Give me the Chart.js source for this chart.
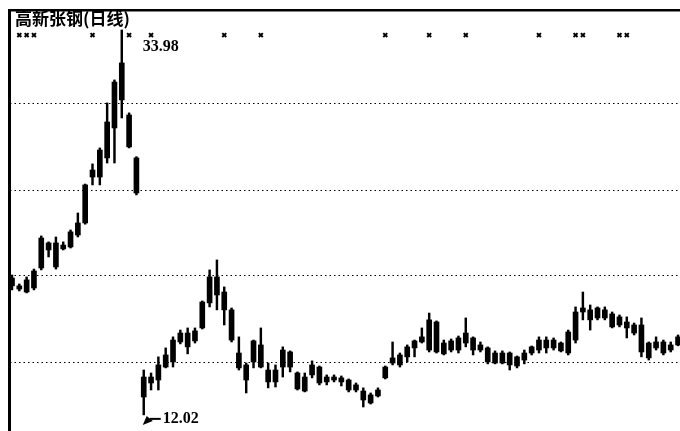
<!DOCTYPE html>
<html>
<head>
<meta charset="utf-8">
<script src="https://cdn.jsdelivr.net/npm/chart.js@4.4.0/dist/chart.umd.min.js"></script>
<style>
  html, body { margin: 0; padding: 0; background: #fff; overflow: hidden; }
  #wrap { width: 680px; height: 431px; position: relative; }
</style>
</head>
<body>
<div id="wrap"><canvas id="klineChart"></canvas></div>
<script>
const title = '高新张钢(日线)';

// daily candles, left to right
const open = [
    19.83, 19.38, 19.03, 19.26, 20.40, 21.83, 20.46, 21.71, 21.60, 22.28,
    22.97, 25.59, 25.59, 26.68, 28.39, 32.10, 29.13, 26.68, 13.04, 13.84,
    14.01, 14.75, 15.04, 16.18, 16.69, 16.24, 16.98, 18.41, 19.89, 19.03,
    18.01, 15.55, 14.87, 15.04, 16.01, 14.58, 13.90, 14.75, 15.61, 14.41,
    14.18, 14.30, 14.75, 13.90, 14.18, 14.13, 14.01, 13.73, 13.38, 12.70,
    13.10, 14.13, 14.98, 15.44, 15.33, 15.84, 16.18, 15.72, 17.32, 16.12,
    15.72, 15.72, 16.12, 16.41, 16.01, 15.84, 14.98, 15.55, 15.55, 14.81,
    15.15, 15.55, 15.72, 16.29, 15.84, 16.12, 15.55, 16.29, 17.89, 18.01,
    17.55, 18.01, 17.78, 17.15, 17.32, 17.15, 17.15, 16.12, 15.84, 16.18,
    15.72, 16.01
];
const close = [
    19.38, 19.20, 19.72, 20.23, 22.11, 21.43, 21.83, 21.49, 22.46, 22.97,
    25.14, 25.99, 27.13, 28.73, 31.01, 29.99, 27.31, 24.68, 14.18, 14.18,
    14.87, 15.44, 16.29, 16.69, 15.90, 16.81, 18.46, 19.89, 18.86, 18.01,
    16.29, 14.70, 14.01, 16.24, 14.75, 13.90, 14.58, 15.72, 14.75, 13.50,
    13.38, 14.87, 13.84, 14.18, 14.01, 13.90, 13.44, 13.44, 12.87, 13.16,
    13.44, 14.75, 15.27, 14.87, 15.90, 16.24, 16.47, 17.44, 15.61, 15.50,
    16.24, 16.41, 16.69, 15.72, 15.72, 15.04, 15.55, 14.98, 14.87, 15.33,
    15.55, 15.90, 16.29, 15.84, 16.29, 15.67, 16.75, 17.89, 18.12, 17.44,
    18.12, 17.55, 17.04, 17.61, 16.98, 16.69, 15.61, 15.27, 16.18, 15.55,
    16.01, 16.47
];
const high = [
    20.00, 19.49, 19.89, 20.34, 22.23, 21.89, 22.17, 21.89, 22.57, 23.54,
    25.19, 26.34, 27.25, 29.82, 31.13, 33.98, 29.25, 26.75, 14.58, 14.41,
    15.33, 15.84, 16.47, 16.86, 16.98, 16.98, 18.52, 20.29, 20.86, 19.32,
    18.12, 16.47, 14.98, 16.29, 16.98, 14.98, 14.87, 15.90, 15.67, 14.47,
    14.41, 15.10, 14.81, 14.30, 14.30, 14.24, 14.07, 13.84, 13.56, 13.27,
    13.56, 14.81, 16.18, 15.55, 16.01, 16.29, 16.98, 17.83, 17.38, 16.29,
    16.35, 16.52, 17.55, 16.47, 16.18, 15.90, 15.67, 15.67, 15.61, 15.38,
    15.72, 15.95, 16.47, 16.47, 16.41, 16.18, 16.86, 18.18, 19.03, 18.29,
    18.18, 18.18, 17.89, 17.72, 17.61, 17.26, 17.55, 16.18, 16.47, 16.29,
    16.18, 16.58
];
const low = [
    19.15, 19.09, 18.98, 19.15, 20.29, 21.03, 20.34, 21.43, 21.54, 22.17,
    22.90, 25.14, 25.14, 26.39, 26.39, 28.96, 27.25, 24.57, 12.02, 13.44,
    13.44, 14.70, 14.75, 16.07, 15.50, 16.12, 16.92, 18.18, 18.01, 17.15,
    16.18, 14.58, 13.27, 14.70, 14.70, 13.56, 13.61, 14.18, 14.47, 13.44,
    13.33, 14.13, 13.73, 13.73, 13.90, 13.67, 13.33, 13.33, 12.47, 12.64,
    13.04, 14.07, 14.87, 14.75, 15.04, 15.33, 16.12, 15.61, 15.55, 15.44,
    15.61, 15.55, 15.90, 15.44, 15.61, 14.93, 14.93, 14.93, 14.58, 14.70,
    14.93, 15.44, 15.55, 15.55, 15.72, 15.61, 15.44, 16.12, 17.44, 16.86,
    17.44, 17.44, 16.98, 17.04, 16.41, 16.58, 15.33, 15.15, 15.72, 15.44,
    15.61, 15.96
];

// days flagged with a cross along the top
const markerDays = [1, 2, 3, 11, 16, 19, 29, 34, 51, 57, 62, 72, 77, 78, 83, 84];
const markerLevel = 33.69;

// dotted price levels
const gridLevels = [15.0, 19.95, 24.85, 29.8];

const framePlugin = {
    id: 'frame',
    afterDraw(chart) {
        const c = chart.ctx;
        const xs = chart.scales.x;
        const ys = chart.scales.y;
        c.save();
        c.fillStyle = '#000';
        c.strokeStyle = '#000';
        c.fillRect(8, 9, 672, 2.5);
        c.fillRect(8, 9, 3, 422);

        c.font = 'bold 17px "Noto Sans CJK SC"';
        c.textBaseline = 'top';
        c.fillText(title, 15, 10);

        // max / min labels
        c.font = 'bold 16px "Liberation Serif"';
        c.textBaseline = 'middle';
        const hi = high.indexOf(Math.max(...high));
        c.fillText(high[hi].toFixed(2), xs.getPixelForValue(hi) + 21, ys.getPixelForValue(high[hi]) + 17);

        const lo = low.indexOf(Math.min(...low));
        const lx = xs.getPixelForValue(lo);
        const ly = ys.getPixelForValue(low[lo]);
        c.fillText(low[lo].toFixed(2), lx + 19, ly + 4);
        c.lineWidth = 2;
        c.beginPath();
        c.moveTo(lx + 6, ly + 4);
        c.lineTo(lx + 17, ly + 4);
        c.stroke();
        c.beginPath();
        c.moveTo(lx - 1, ly + 10);
        c.lineTo(lx + 3, ly + 1);
        c.lineTo(lx + 9, ly + 6);
        c.closePath();
        c.fill();
        c.restore();
    }
};

const ctx = document.getElementById('klineChart').getContext('2d');
const klineChart = new Chart(ctx, {
    type: 'bar',
    data: {
        datasets: [{
            label: 'wick',
            data: high.map((h, i) => ({ x: i, y: [low[i], h] })),
            backgroundColor: '#000',
            borderWidth: 0,
            barThickness: 1.8,
            grouped: false
        }, {
            label: 'body',
            data: open.map((o, i) => ({ x: i, y: [o, close[i]] })),
            backgroundColor: '#000',
            borderWidth: 0,
            barThickness: 5,
            minBarLength: 1.5,
            grouped: false
        }, {
            type: 'scatter',
            label: 'marks',
            data: markerDays.map(d => ({ x: d, y: markerLevel })),
            pointStyle: 'crossRot',
            pointRadius: 2.8,
            borderWidth: 2,
            borderColor: '#000',
            backgroundColor: '#000'
        }]
    },
    options: {
        responsive: true,
        maintainAspectRatio: false,
        animation: false,
        layout: {
            autoPadding: false,
            padding: { left: 10, top: 10, right: 0, bottom: 0 }
        },
        scales: {
            x: {
                type: 'linear',
                min: -0.273,
                max: 91.27,
                offset: false,
                display: false
            },
            y: {
                min: 11.10,
                max: 35.12,
                beginAtZero: false,
                afterFit: scale => { scale.width = 0; },
                afterBuildTicks: scale => {
                    scale.ticks = gridLevels.map(v => ({ value: v }));
                },
                ticks: { display: false },
                border: { display: false, dash: [1.5, 3] },
                grid: {
                    color: '#000',
                    lineWidth: 1,
                    drawTicks: false
                }
            }
        },
        plugins: {
            legend: { display: false },
            tooltip: { enabled: false }
        }
    },
    plugins: [framePlugin]
});
</script>
</body>
</html>
